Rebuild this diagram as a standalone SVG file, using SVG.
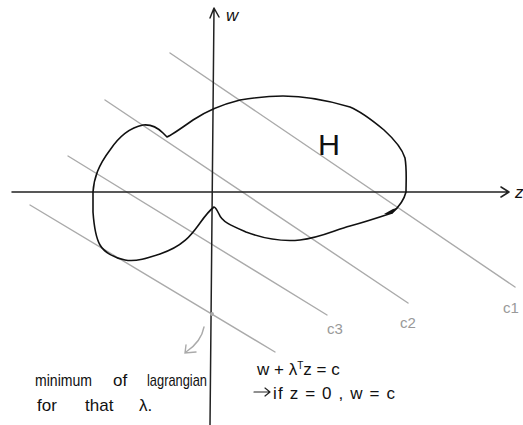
<svg xmlns="http://www.w3.org/2000/svg" width="523" height="425" viewBox="0 0 523 425">
<style>
.ax{fill:none;stroke:#222;stroke-width:1.5;stroke-linecap:round;stroke-linejoin:round}
.lv{fill:none;stroke:#aaa;stroke-width:1.4;stroke-linecap:round}
.blob{fill:none;stroke:#111;stroke-width:1.6;stroke-linejoin:round}
.hw{font-family:"Liberation Sans","DejaVu Sans",sans-serif;fill:#111;font-size:17px}
.gl{font-family:"Liberation Sans","DejaVu Sans",sans-serif;fill:#999;font-size:15px}
</style>
<rect width="523" height="425" fill="#fff"/>
<g id="level-lines">
<line class="lv" x1="170" y1="53" x2="515" y2="287"/>
<line class="lv" x1="105" y1="100" x2="408" y2="303"/>
<line class="lv" x1="68" y1="156" x2="327" y2="315"/>
<line class="lv" x1="30" y1="205" x2="275" y2="352"/>
</g>
<g id="axes">
<path class="ax" d="M12 192 L508 192 M501 187 L509 192 L501 197"/>
<path class="ax" d="M210 425 L214 9 M210 18 L214 8 L219 17"/>
<text class="hw" x="226" y="21" font-style="italic">w</text>
<text class="hw" x="515" y="198" font-style="italic">z</text>
</g>
<g id="set-H">
<path class="blob" d="M93 192 C94 178 98 166 110 150 C118 138 128 128 143 125 C152 124 158 128 163 133 L167 137 C170 136 176 132 193 120 C205 112 220 105 240 100 C258 97 270 96 283 96 C300 96 320 98 350 107 C362 112 372 120 384 130 C395 140 402 148 405 158 C407 170 406 182 406 192 C404 200 400 206 392 213 C380 217 365 222 350 226 C335 230 320 238 300 240 C280 242 262 238 246 232 C232 226 222 222 219 214 C217 210 215 207 214 207 C210 210 205 216 200 223 C192 234 184 246 160 254 C148 258 136 262 125 260 C114 258 104 252 100 245 C96 238 94 226 93 212 Z"/>
<path d="M384 214 L393 209 L397 208 L392 214 Z" fill="#111"/>
<text x="318" y="155" style="font-family:'Liberation Sans',sans-serif;font-size:30px;fill:#111" textLength="22" lengthAdjust="spacingAndGlyphs">H</text>
</g>
<g id="level-labels">
<text class="gl" x="327" y="334">c3</text>
<text class="gl" x="400" y="328">c2</text>
<text class="gl" x="503" y="313">c1</text>
</g>
<g id="minimum-note">
<circle cx="212" cy="314" r="2" fill="#aaa"/>
<path class="lv" d="M204 327 C202 338 195 346 186 352 M186 345 L185 353 L196 352"/>
<text class="hw" x="35" y="386" textLength="57" lengthAdjust="spacingAndGlyphs">minimum</text>
<text class="hw" x="113" y="386">of</text>
<text class="hw" x="147" y="386" textLength="60" lengthAdjust="spacingAndGlyphs">lagrangian</text>
<text class="hw" x="37" y="411">for</text>
<text class="hw" x="85" y="411">that</text>
<text class="hw" x="139" y="411">λ.</text>
</g>
<g id="equation-note">
<text class="hw" x="257" y="375">w + λ<tspan dy="-6" style="font-size:10px">T</tspan><tspan dy="6">z = c</tspan></text>
<path class="ax" d="M254 392 L270 392 M265 388 L270 392 L265 396" style="stroke-width:1.2"/>
<text class="hw" x="273" y="399" textLength="122" lengthAdjust="spacing">if z = 0 , w = c</text>
</g>
</svg>
